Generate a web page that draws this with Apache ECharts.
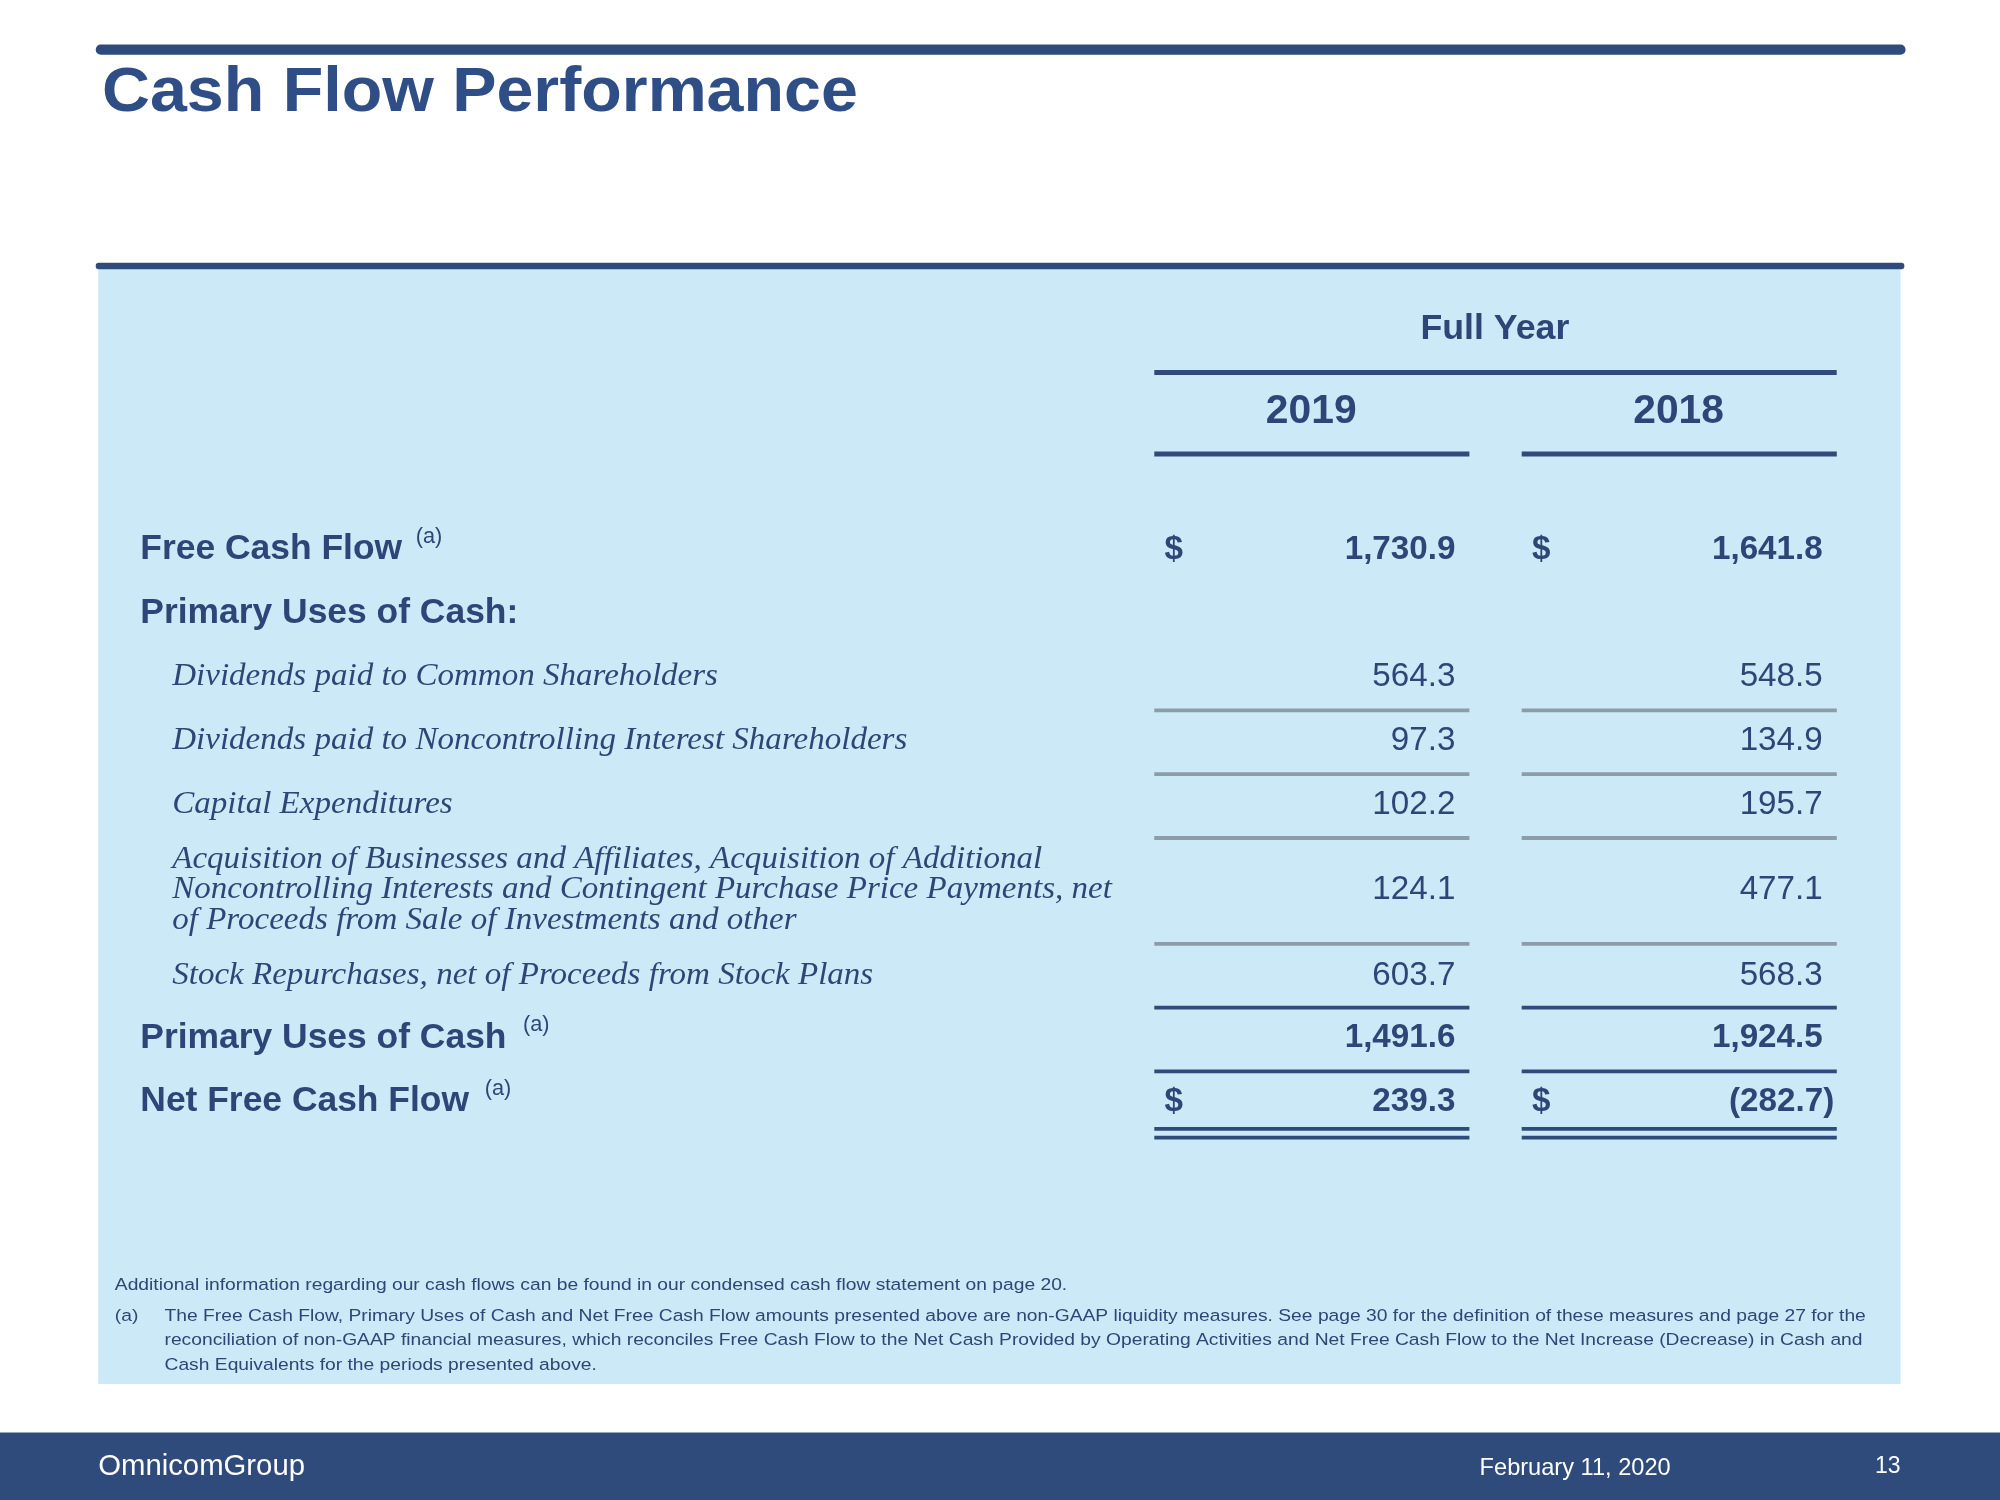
<!DOCTYPE html>
<html>
<head>
<meta charset="utf-8" />
<title>Cash Flow Performance</title>
<script src="https://cdn.jsdelivr.net/npm/echarts@6/dist/echarts.min.js"></script>
<style>html,body{margin:0;padding:0;background:#fff}#main{width:2000px;height:1500px}</style>
</head>
<body>
<div id="main"></div>
<script type="text/javascript">
// data
var years = ['2019', '2018'];
var rowLabels = [
    'Free Cash Flow',
    'Primary Uses of Cash:',
    'Dividends paid to Common Shareholders',
    'Dividends paid to Noncontrolling Interest Shareholders',
    'Capital Expenditures',
    'Acquisition of Businesses and Affiliates, Acquisition of Additional\nNoncontrolling Interests and Contingent Purchase Price Payments, net\nof Proceeds from Sale of Investments and other',
    'Stock Repurchases, net of Proceeds from Stock Plans',
    'Primary Uses of Cash',
    'Net Free Cash Flow'
];
var rowKinds = ['bold', 'bold', 'italic', 'italic', 'italic', 'italic', 'italic', 'bold', 'bold'];
var rowNotes = ['(a)', '', '', '', '', '', '', '(a)', '(a)'];
var values2019 = [1730.9, null, 564.3, 97.3, 102.2, 124.1, 603.7, 1491.6, 239.3];
var values2018 = [1641.8, null, 548.5, 134.9, 195.7, 477.1, 568.3, 1924.5, -282.7];
var dollarRows = [0, 8];

var s = 2000 / 1568;
var navy = '#2F4B7C', txt = '#2E4677', grey = '#8E9BA8';
function S(v) { return Math.round(v * s * 10) / 10; }
function fmt(v) {
    var t = Math.abs(v).toFixed(1).replace(/\B(?=(\d{3})+(?!\d))/g, ',');
    return v < 0 ? '(' + t + ')' : t;
}
function text(x, y, str, size, opt) {
    opt = opt || {};
    return {
        type: 'text', x: S(x), y: S(y), silent: true, scaleX: opt.sx || 1,
        style: {
            text: str, fill: opt.fill || txt,
            font: (opt.style || '') + ' ' + (opt.weight || 'normal') + ' ' + S(size) + 'px ' + (opt.family || 'Arial, "Liberation Sans", sans-serif'),
            align: opt.align || 'left', verticalAlign: opt.va || 'middle', lineHeight: opt.lh ? S(opt.lh) : undefined
        }
    };
}
function line(x1, x2, y, w, color) {
    return { type: 'rect', silent: true, shape: { x: S(x1), y: S(y - w / 2), width: S(x2 - x1), height: S(w) }, style: { fill: color } };
}

var g = [];
g.push({ type: 'rect', shape: { x: S(75), y: S(35), width: S(1419), height: S(8), r: S(4) }, style: { fill: navy } });
g.push(text(80, 73, 'Cash Flow Performance', 50, { weight: 'bold', fill: '#2F4E86', sx: 1.04 }));
g.push({ type: 'rect', shape: { x: S(77), y: S(208), width: S(1413), height: S(877) }, style: { fill: '#CBE9F6' } });
g.push({ type: 'rect', shape: { x: S(75), y: S(206), width: S(1418), height: S(5), r: S(2.5) }, style: { fill: navy } });

g.push(text(1172, 258, 'Full Year', 28, { weight: 'bold', align: 'center' }));
g.push(line(905, 1440, 292, 4, navy));
var colCenter = [1028, 1316], colLeft = [905, 1193], colRight = [1152, 1440];
years.forEach(function (y, i) {
    g.push(text(colCenter[i], 323, y, 32, { weight: 'bold', align: 'center' }));
    g.push(line(colLeft[i], colRight[i], 356, 4, navy));
});

var rowY = [431, 481, 531, 581, 631, 698, 765, 814, 864];
var cols = [values2019, values2018];
rowLabels.forEach(function (lab, r) {
    var y = rowY[r];
    if (rowKinds[r] === 'bold') {
        g.push(text(110, y, lab, 27, { weight: 'bold', sx: 1.03 }));
    } else {
        g.push(text(135, y, lab, 24, { style: 'italic', family: '"Liberation Serif", "DejaVu Serif", serif', lh: 24, sx: 1.08 }));
    }
    cols.forEach(function (vals, c) {
        var v = vals[r];
        if (v === null) return;
        var bold = rowKinds[r] === 'bold';
        var xr = v < 0 ? colRight[c] - 2 : colRight[c] - 11;
        g.push(text(xr, y, fmt(v), 26, { weight: bold ? 'bold' : 'normal', align: 'right' }));
        if (dollarRows.indexOf(r) >= 0) g.push(text(colLeft[c] + 8, y, '$', 26, { weight: 'bold' }));
    });
});
// superscript notes placed after bold labels
var noteX = { 0: 326, 7: 410, 8: 380 };
Object.keys(noteX).forEach(function (r) {
    g.push(text(noteX[r], rowY[r] - 10, rowNotes[r], 17, {}));
});

// rules under rows
[557, 607, 657, 740].forEach(function (y) {
    [0, 1].forEach(function (c) { g.push(line(colLeft[c], colRight[c], y, 3, grey)); });
});
[790, 840, 885, 892].forEach(function (y) {
    [0, 1].forEach(function (c) { g.push(line(colLeft[c], colRight[c], y, 3, navy)); });
});

g.push(text(90, 1008, 'Additional information regarding our cash flows can be found in our condensed cash flow statement on page 20.', 13.5, { sx: 1.12 }));
g.push(text(90, 1032, '(a)', 13.5, { sx: 1.12 }));
g.push(text(129, 1051, 'The Free Cash Flow, Primary Uses of Cash and Net Free Cash Flow amounts presented above are non-GAAP liquidity measures. See page 30 for the definition of these measures and page 27 for the\nreconciliation of non-GAAP financial measures, which reconciles Free Cash Flow to the Net Cash Provided by Operating Activities and Net Free Cash Flow to the Net Increase (Decrease) in Cash and\nCash Equivalents for the periods presented above.', 13.5, { lh: 19, sx: 1.12 }));

g.push({ type: 'rect', shape: { x: 0, y: S(1123), width: 2000, height: S(60) }, style: { fill: navy } });
g.push(text(77, 1150, 'OmnicomGroup', 23, { fill: '#fff' }));
g.push(text(1160, 1151, 'February 11, 2020', 18.5, { fill: '#fff' }));
g.push(text(1490, 1150, '13', 18, { fill: '#fff', align: 'right' }));

var chart = echarts.init(document.getElementById('main'));
chart.setOption({ animation: false, graphic: { elements: g } });
</script>
</body>
</html>
